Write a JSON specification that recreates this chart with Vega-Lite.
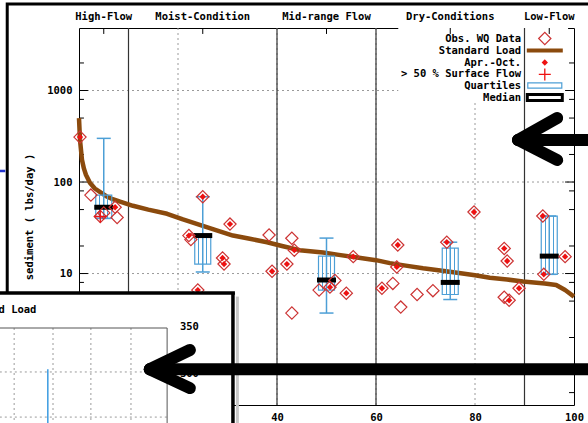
{
"$schema":"https://vega.github.io/schema/vega-lite/v6.json",
"width":495,"height":377,
"autosize":{"type":"none"},
"padding":{"left":79,"top":28,"right":14,"bottom":18},
"background":"#ffffff",
"config":{"view":{"stroke":"#000000","strokeWidth":1},
 "scale":{"continuousPadding":0},
 "axis":{"grid":false,"ticks":false,"domain":false,"labelFlush":false,"labelOverlap":false,"labelFont":"DejaVu Sans Mono","labelFontWeight":"bold","labelFontSize":10.5,"labelColor":"#000000","titleFont":"DejaVu Sans Mono","titleFontWeight":"bold","titleFontSize":10.5,"titleColor":"#000000"},
 "text":{"font":"DejaVu Sans Mono","fontWeight":"bold","fontSize":10.5,"color":"#000000"}},
"datasets":{
 "curve":[{"pct":0,"load":500},{"pct":0.2,"load":290},{"pct":0.6,"load":175},{"pct":1.0,"load":140},{"pct":1.4,"load":120},{"pct":2.2,"load":98},{"pct":3.2,"load":85},{"pct":4.2,"load":78},{"pct":5.5,"load":70},{"pct":6.5,"load":66},{"pct":8.3,"load":61},{"pct":10.9,"load":55},{"pct":14,"load":50},{"pct":17.8,"load":45},{"pct":21,"load":39},{"pct":24.4,"load":34},{"pct":27.5,"load":30},{"pct":31.1,"load":26},{"pct":34.5,"load":24},{"pct":38,"load":22},{"pct":41,"load":20},{"pct":44.6,"load":18},{"pct":49.3,"load":17},{"pct":52.5,"load":16},{"pct":56.2,"load":15},{"pct":60,"load":14},{"pct":62.8,"load":13},{"pct":66,"load":12.2},{"pct":69.5,"load":11.4},{"pct":73,"load":10.8},{"pct":76.4,"load":10.2},{"pct":80,"load":9.6},{"pct":83,"load":9.0},{"pct":86.5,"load":8.6},{"pct":89.7,"load":8.2},{"pct":94.1,"load":7.8},{"pct":96.4,"load":7.5},{"pct":98.2,"load":6.6},{"pct":100,"load":5.6}],
 "obs":[{"pct":0.2,"load":310,"ao":1,"sf":0},{"pct":2.4,"load":72,"ao":0,"sf":0},{"pct":4.3,"load":42,"ao":0,"sf":1},{"pct":5.0,"load":46,"ao":0,"sf":0},{"pct":7.7,"load":41,"ao":0,"sf":0},{"pct":7.3,"load":53,"ao":1,"sf":0},{"pct":22.2,"load":26,"ao":1,"sf":0},{"pct":22.6,"load":23.5,"ao":0,"sf":0},{"pct":25,"load":69,"ao":1,"sf":0},{"pct":24,"load":6.6,"ao":1,"sf":0},{"pct":29,"load":14.8,"ao":1,"sf":0},{"pct":29.3,"load":12.7,"ao":1,"sf":0},{"pct":30.5,"load":34.7,"ao":1,"sf":0},{"pct":38.4,"load":26.4,"ao":0,"sf":0},{"pct":39,"load":10.6,"ao":1,"sf":0},{"pct":43,"load":24.3,"ao":0,"sf":0},{"pct":43.5,"load":18,"ao":1,"sf":0},{"pct":42,"load":12.7,"ao":1,"sf":0},{"pct":43,"load":3.7,"ao":0,"sf":0},{"pct":48.5,"load":6.6,"ao":0,"sf":0},{"pct":50.7,"load":7.1,"ao":1,"sf":0},{"pct":51.7,"load":8.4,"ao":0,"sf":0},{"pct":54,"load":6.1,"ao":1,"sf":0},{"pct":55.4,"load":15.3,"ao":1,"sf":0},{"pct":61.2,"load":6.9,"ao":1,"sf":0},{"pct":63.4,"load":7.8,"ao":0,"sf":0},{"pct":64.4,"load":20.5,"ao":1,"sf":0},{"pct":64.2,"load":11.8,"ao":1,"sf":0},{"pct":65,"load":4.3,"ao":0,"sf":0},{"pct":68.3,"load":5.9,"ao":0,"sf":0},{"pct":71.5,"load":6.5,"ao":0,"sf":0},{"pct":74.3,"load":22,"ao":1,"sf":0},{"pct":79.8,"load":47,"ao":1,"sf":0},{"pct":85.9,"load":18.8,"ao":1,"sf":0},{"pct":86.5,"load":13.7,"ao":1,"sf":0},{"pct":85.9,"load":5.5,"ao":0,"sf":0},{"pct":86.9,"load":5.1,"ao":1,"sf":0},{"pct":88.9,"load":6.9,"ao":1,"sf":0},{"pct":93.7,"load":42.5,"ao":1,"sf":0},{"pct":98.2,"load":15.3,"ao":1,"sf":0},{"pct":93.9,"load":9.8,"ao":1,"sf":0}],
 "box":[{"pct":5,"wlo":40,"q1":40,"med":53,"q3":72,"whi":300},{"pct":25,"wlo":10.4,"q1":12.7,"med":26,"q3":26,"whi":69},{"pct":50,"wlo":3.7,"q1":6.6,"med":8.5,"q3":15.5,"whi":24.4},{"pct":75,"wlo":5.2,"q1":5.9,"med":8,"q3":19,"whi":22},{"pct":95,"wlo":9.8,"q1":9.8,"med":15.5,"q3":42.5,"whi":42.5}],
 "legend":[{"label":"Obs. WQ Data","ly":3700,"sym":"obs"},{"label":"Standard Load","ly":2735,"sym":"load"},{"label":"Apr.-Oct.","ly":2023,"sym":"ao"},{"label":"> 50 % Surface Flow","ly":1497,"sym":"sf"},{"label":"Quartiles","ly":1134,"sym":"q"},{"label":"Median","ly":838,"sym":"med"}],
 "yt":[{"v":1,"m":1},{"v":10,"m":1},{"v":100,"m":1},{"v":1000,"m":1},{"v":0.5,"m":0},{"v":0.8,"m":0},{"v":2,"m":0},{"v":5,"m":0},{"v":8,"m":0},{"v":20,"m":0},{"v":50,"m":0},{"v":80,"m":0},{"v":200,"m":0},{"v":500,"m":0},{"v":800,"m":0},{"v":2000,"m":0}],
 "ann":[{"g":"lbg","x":64.5,"x2":98.8,"y":730,"y2":4820},
  {"g":"frame","x":-14.5,"x2":106,"y":0.2,"y2":8800},
  {"g":"bluemark","x":-16.5,"x2":-14.9,"y":132,"y2":132},
  {"g":"inset","x":-20,"x2":31.1,"y":0.15,"y2":6.12},
  {"g":"iborder","x":-20,"x2":31.5,"y":6.12,"y2":6.12},
  {"g":"iborder","x":31.1,"x2":31.1,"y":6.12,"y2":0.15},
  {"g":"ishadow","x":32.0,"x2":32.0,"y":5.6,"y2":0.15},
  {"g":"iframe","x":-16,"x2":17.8,"y":2.54,"y2":2.54},
  {"g":"iframe","x":17.8,"x2":17.8,"y":2.54,"y2":0.15},
  {"g":"igrid","x":-16,"x2":17.8,"y":0.84,"y2":0.84},
  {"g":"igrid","x":-16,"x2":17.8,"y":0.27,"y2":0.27},
  {"g":"igrid","x":-13.1,"x2":-13.1,"y":2.54,"y2":0.15},
  {"g":"igrid","x":-5.25,"x2":-5.25,"y":2.54,"y2":0.15},
  {"g":"igrid","x":2.4,"x2":2.4,"y":2.54,"y2":0.15},
  {"g":"igrid","x":10.5,"x2":10.5,"y":2.54,"y2":0.15},
  {"g":"iblue","x":-6.3,"x2":-6.3,"y":0.90,"y2":0.15},
  {"g":"arrow","x":88.7,"x2":106,"y":288,"y2":288},
  {"g":"arrow","x":88.7,"x2":96.6,"y":288,"y2":500},
  {"g":"arrow","x":88.7,"x2":96.6,"y":288,"y2":174},
  {"g":"arrow","x":14.3,"x2":106,"y":0.90,"y2":0.90},
  {"g":"arrow","x":14.3,"x2":22.4,"y":0.90,"y2":1.46},
  {"g":"arrow","x":14.3,"x2":22.4,"y":0.90,"y2":0.56}]
},
"layer":[
 {"data":{"values":[{"v":1},{"v":10},{"v":100},{"v":1000}]},"mark":{"type":"rule","color":"#9a9a9a","strokeDash":[2,3],"strokeWidth":1},
  "encoding":{"y":{"field":"v","type":"quantitative","scale":{"type":"log","domain":[0.366,4820],"nice":false},"axis":{"orient":"left","values":[1,10,100,1000],"format":"d","ticks":false,"domain":false,"grid":false,"labelPadding":7,"title":"sediment ( lbs/day )","titlePadding":12}}}},
 {"data":{"values":[{"v":20},{"v":40},{"v":60},{"v":80}]},"mark":{"type":"rule","color":"#9a9a9a","strokeDash":[2,3],"strokeWidth":1},
  "encoding":{"x":{"field":"v","type":"quantitative","scale":{"domain":[0,100],"nice":false,"zero":false,"padding":0},"axis":{"orient":"bottom","values":[0,20,40,60,80,100],"format":"d","ticks":false,"domain":false,"grid":false,"labelFlush":false,"labelPadding":7,"title":null}}}},
 {"data":{"name":"ann"},"transform":[{"filter":"datum.g == 'lbg'"}],"mark":{"type":"rect","fill":"#ffffff"},
  "encoding":{"x":{"field":"x","type":"quantitative","scale":{"domain":[0,100],"nice":false,"zero":false}},"x2":{"field":"x2"},"y":{"field":"y","type":"quantitative","scale":{"type":"log","domain":[0.366,4820],"nice":false}},"y2":{"field":"y2"}}},
 {"data":{"values":[{"v":10},{"v":40},{"v":60},{"v":90}]},"mark":{"type":"rule","color":"#333333","strokeWidth":1.2},
  "encoding":{"x":{"field":"v","type":"quantitative","scale":{"domain":[0,100],"nice":false,"zero":false}}}},
 {"data":{"values":[{"pct":5,"name":"High-Flow"},{"pct":25,"name":"Moist-Condition"},{"pct":50,"name":"Mid-range Flow"},{"pct":75,"name":"Dry-Conditions"},{"pct":95,"name":"Low-Flow"}]},
  "mark":{"type":"text","align":"center","baseline":"middle"},
  "encoding":{"x":{"field":"pct","type":"quantitative","scale":{"domain":[0,100],"nice":false,"zero":false}},"y":{"datum":6350,"type":"quantitative","scale":{"type":"log","domain":[0.366,4820],"nice":false}},"text":{"field":"name"}}},
 {"data":{"values":[{"v":5},{"v":25},{"v":50},{"v":75},{"v":95}]},"mark":{"type":"rule","color":"#000000","strokeWidth":1},
  "encoding":{"x":{"field":"v","type":"quantitative","scale":{"domain":[0,100],"nice":false,"zero":false}},"y":{"datum":4820,"type":"quantitative","scale":{"type":"log","domain":[0.366,4820],"nice":false}},"y2":{"datum":4150}}},
 {"data":{"name":"yt"},"transform":[{"filter":"datum.m == 1"}],"mark":{"type":"rule","color":"#000000","strokeWidth":1},
  "encoding":{"x":{"datum":0,"type":"quantitative","scale":{"domain":[0,100],"nice":false,"zero":false}},"x2":{"datum":1.8},"y":{"field":"v","type":"quantitative","scale":{"type":"log","domain":[0.366,4820],"nice":false}}}},
 {"data":{"name":"yt"},"transform":[{"filter":"datum.m == 0"}],"mark":{"type":"rule","color":"#000000","strokeWidth":1},
  "encoding":{"x":{"datum":0,"type":"quantitative","scale":{"domain":[0,100],"nice":false,"zero":false}},"x2":{"datum":1.0},"y":{"field":"v","type":"quantitative","scale":{"type":"log","domain":[0.366,4820],"nice":false}}}},
 {"data":{"name":"yt"},"transform":[{"filter":"datum.m == 1"}],"mark":{"type":"rule","color":"#000000","strokeWidth":1},
  "encoding":{"x":{"datum":100,"type":"quantitative","scale":{"domain":[0,100],"nice":false,"zero":false}},"x2":{"datum":98.2},"y":{"field":"v","type":"quantitative","scale":{"type":"log","domain":[0.366,4820],"nice":false}}}},
 {"data":{"name":"yt"},"transform":[{"filter":"datum.m == 0"}],"mark":{"type":"rule","color":"#000000","strokeWidth":1},
  "encoding":{"x":{"datum":100,"type":"quantitative","scale":{"domain":[0,100],"nice":false,"zero":false}},"x2":{"datum":99.0},"y":{"field":"v","type":"quantitative","scale":{"type":"log","domain":[0.366,4820],"nice":false}}}},
 {"data":{"name":"curve"},"mark":{"type":"line","color":"#8b4a0d","strokeWidth":4.5,"strokeJoin":"round"},
  "encoding":{"x":{"field":"pct","type":"quantitative","scale":{"domain":[0,100],"nice":false,"zero":false}},"y":{"field":"load","type":"quantitative","scale":{"type":"log","domain":[0.366,4820],"nice":false}}}},
 {"data":{"name":"box"},"mark":{"type":"rule","color":"#4d9fd6","strokeWidth":1.5},
  "encoding":{"x":{"field":"pct","type":"quantitative","scale":{"domain":[0,100],"nice":false,"zero":false}},"y":{"field":"wlo","type":"quantitative","scale":{"type":"log","domain":[0.366,4820],"nice":false}},"y2":{"field":"whi"}}},
 {"data":{"name":"box"},"mark":{"type":"tick","orient":"horizontal","color":"#4d9fd6","size":14,"thickness":1.5,"opacity":1},
  "encoding":{"x":{"field":"pct","type":"quantitative","scale":{"domain":[0,100],"nice":false,"zero":false}},"y":{"field":"whi","type":"quantitative","scale":{"type":"log","domain":[0.366,4820],"nice":false}}}},
 {"data":{"name":"box"},"mark":{"type":"tick","orient":"horizontal","color":"#4d9fd6","size":14,"thickness":1.5,"opacity":1},
  "encoding":{"x":{"field":"pct","type":"quantitative","scale":{"domain":[0,100],"nice":false,"zero":false}},"y":{"field":"wlo","type":"quantitative","scale":{"type":"log","domain":[0.366,4820],"nice":false}}}},
 {"data":{"name":"box"},"mark":{"type":"bar","stroke":"#4d9fd6","strokeWidth":1.2,"opacity":1,
   "fill":{"gradient":"linear","x1":0,"x2":1,"y1":0,"y2":0,"stops":[{"offset":0,"color":"rgba(255,255,255,0)"},{"offset":0.215,"color":"rgba(255,255,255,0)"},{"offset":0.215,"color":"#4d9fd6"},{"offset":0.285,"color":"#4d9fd6"},{"offset":0.285,"color":"rgba(255,255,255,0)"},{"offset":0.465,"color":"rgba(255,255,255,0)"},{"offset":0.465,"color":"#4d9fd6"},{"offset":0.535,"color":"#4d9fd6"},{"offset":0.535,"color":"rgba(255,255,255,0)"},{"offset":0.715,"color":"rgba(255,255,255,0)"},{"offset":0.715,"color":"#4d9fd6"},{"offset":0.785,"color":"#4d9fd6"},{"offset":0.785,"color":"rgba(255,255,255,0)"},{"offset":1,"color":"rgba(255,255,255,0)"}]}},
  "encoding":{"x":{"field":"pct","type":"quantitative","scale":{"domain":[0,100],"nice":false,"zero":false}},"y":{"field":"q1","type":"quantitative","scale":{"type":"log","domain":[0.366,4820],"nice":false}},"y2":{"field":"q3"},"size":{"value":16}}},
 {"data":{"name":"box"},"mark":{"type":"tick","orient":"horizontal","color":"#000000","size":19,"thickness":5,"opacity":1},
  "encoding":{"x":{"field":"pct","type":"quantitative","scale":{"domain":[0,100],"nice":false,"zero":false}},"y":{"field":"med","type":"quantitative","scale":{"type":"log","domain":[0.366,4820],"nice":false}}}},
 {"data":{"name":"obs"},"mark":{"type":"point","shape":"diamond","size":150,"filled":false,"stroke":"#cc3333","strokeWidth":1.2,"opacity":1},
  "encoding":{"x":{"field":"pct","type":"quantitative","scale":{"domain":[0,100],"nice":false,"zero":false}},"y":{"field":"load","type":"quantitative","scale":{"type":"log","domain":[0.366,4820],"nice":false}}}},
 {"data":{"name":"obs"},"transform":[{"filter":"datum.ao == 1"}],"mark":{"type":"point","shape":"diamond","size":40,"filled":true,"color":"#ee1111","opacity":1},
  "encoding":{"x":{"field":"pct","type":"quantitative","scale":{"domain":[0,100],"nice":false,"zero":false}},"y":{"field":"load","type":"quantitative","scale":{"type":"log","domain":[0.366,4820],"nice":false}}}},
 {"data":{"name":"obs"},"transform":[{"filter":"datum.sf == 1"}],"mark":{"type":"point","shape":"M-1,0L1,0M0,-1L0,1","size":144,"filled":false,"stroke":"#ee1111","strokeWidth":1.3,"opacity":1},
  "encoding":{"x":{"field":"pct","type":"quantitative","scale":{"domain":[0,100],"nice":false,"zero":false}},"y":{"field":"load","type":"quantitative","scale":{"type":"log","domain":[0.366,4820],"nice":false}}}},
 {"data":{"name":"legend"},"mark":{"type":"text","align":"right","baseline":"middle"},
  "encoding":{"x":{"datum":89.3,"type":"quantitative","scale":{"domain":[0,100],"nice":false,"zero":false}},"y":{"field":"ly","type":"quantitative","scale":{"type":"log","domain":[0.366,4820],"nice":false}},"text":{"field":"label"}}},
 {"data":{"name":"legend"},"transform":[{"filter":"datum.sym == 'obs'"}],"mark":{"type":"point","shape":"diamond","size":150,"filled":false,"stroke":"#cc3333","strokeWidth":1.2,"opacity":1},
  "encoding":{"x":{"datum":94.1,"type":"quantitative","scale":{"domain":[0,100],"nice":false,"zero":false}},"y":{"field":"ly","type":"quantitative","scale":{"type":"log","domain":[0.366,4820],"nice":false}}}},
 {"data":{"name":"legend"},"transform":[{"filter":"datum.sym == 'load'"}],"mark":{"type":"tick","orient":"horizontal","color":"#8b4a0d","size":36,"thickness":4,"opacity":1},
  "encoding":{"x":{"datum":94.1,"type":"quantitative","scale":{"domain":[0,100],"nice":false,"zero":false}},"y":{"field":"ly","type":"quantitative","scale":{"type":"log","domain":[0.366,4820],"nice":false}}}},
 {"data":{"name":"legend"},"transform":[{"filter":"datum.sym == 'ao'"}],"mark":{"type":"point","shape":"diamond","size":40,"filled":true,"color":"#ee1111","opacity":1},
  "encoding":{"x":{"datum":94.1,"type":"quantitative","scale":{"domain":[0,100],"nice":false,"zero":false}},"y":{"field":"ly","type":"quantitative","scale":{"type":"log","domain":[0.366,4820],"nice":false}}}},
 {"data":{"name":"legend"},"transform":[{"filter":"datum.sym == 'sf'"}],"mark":{"type":"point","shape":"M-1,0L1,0M0,-1L0,1","size":144,"filled":false,"stroke":"#ee1111","strokeWidth":1.3,"opacity":1},
  "encoding":{"x":{"datum":94.1,"type":"quantitative","scale":{"domain":[0,100],"nice":false,"zero":false}},"y":{"field":"ly","type":"quantitative","scale":{"type":"log","domain":[0.366,4820],"nice":false}}}},
 {"data":{"name":"legend"},"transform":[{"filter":"datum.sym == 'q'"}],"mark":{"type":"point","shape":"M-1,-0.15L1,-0.15L1,0.15L-1,0.15Z","size":1156,"filled":false,"stroke":"#4d9fd6","strokeWidth":1.2,"opacity":1},
  "encoding":{"x":{"datum":94.1,"type":"quantitative","scale":{"domain":[0,100],"nice":false,"zero":false}},"y":{"field":"ly","type":"quantitative","scale":{"type":"log","domain":[0.366,4820],"nice":false}}}},
 {"data":{"name":"legend"},"transform":[{"filter":"datum.sym == 'med'"}],"mark":{"type":"point","shape":"M-1,-0.17L1,-0.17L1,0.17L-1,0.17Z","size":1225,"filled":false,"fill":"#ffffff","fillOpacity":1,"stroke":"#000000","strokeWidth":3,"opacity":1},
  "encoding":{"x":{"datum":94.1,"type":"quantitative","scale":{"domain":[0,100],"nice":false,"zero":false}},"y":{"field":"ly","type":"quantitative","scale":{"type":"log","domain":[0.366,4820],"nice":false}}}},
 {"data":{"name":"ann"},"transform":[{"filter":"datum.g == 'frame'"}],"mark":{"type":"rect","fill":null,"fillOpacity":0,"stroke":"#000000","strokeWidth":3},
  "encoding":{"x":{"field":"x","type":"quantitative","scale":{"domain":[0,100],"nice":false,"zero":false}},"x2":{"field":"x2"},"y":{"field":"y","type":"quantitative","scale":{"type":"log","domain":[0.366,4820],"nice":false}},"y2":{"field":"y2"}}},
 {"data":{"name":"ann"},"transform":[{"filter":"datum.g == 'bluemark'"}],"mark":{"type":"rule","color":"#2233cc","strokeWidth":2.5},
  "encoding":{"x":{"field":"x","type":"quantitative","scale":{"domain":[0,100],"nice":false,"zero":false}},"x2":{"field":"x2"},"y":{"field":"y","type":"quantitative","scale":{"type":"log","domain":[0.366,4820],"nice":false}},"y2":{"field":"y2"}}},
 {"data":{"name":"ann"},"transform":[{"filter":"datum.g == 'inset'"}],"mark":{"type":"rect","fill":"#ffffff"},
  "encoding":{"x":{"field":"x","type":"quantitative","scale":{"domain":[0,100],"nice":false,"zero":false}},"x2":{"field":"x2"},"y":{"field":"y","type":"quantitative","scale":{"type":"log","domain":[0.366,4820],"nice":false}},"y2":{"field":"y2"}}},
 {"data":{"name":"ann"},"transform":[{"filter":"datum.g == 'ishadow'"}],"mark":{"type":"rule","color":"#c8c8c8","strokeWidth":3},
  "encoding":{"x":{"field":"x","type":"quantitative","scale":{"domain":[0,100],"nice":false,"zero":false}},"x2":{"field":"x2"},"y":{"field":"y","type":"quantitative","scale":{"type":"log","domain":[0.366,4820],"nice":false}},"y2":{"field":"y2"}}},
 {"data":{"name":"ann"},"transform":[{"filter":"datum.g == 'iborder'"}],"mark":{"type":"rule","color":"#000000","strokeWidth":3.5},
  "encoding":{"x":{"field":"x","type":"quantitative","scale":{"domain":[0,100],"nice":false,"zero":false}},"x2":{"field":"x2"},"y":{"field":"y","type":"quantitative","scale":{"type":"log","domain":[0.366,4820],"nice":false}},"y2":{"field":"y2"}}},
 {"data":{"name":"ann"},"transform":[{"filter":"datum.g == 'igrid'"}],"mark":{"type":"rule","color":"#9a9a9a","strokeDash":[2,3],"strokeWidth":1},
  "encoding":{"x":{"field":"x","type":"quantitative","scale":{"domain":[0,100],"nice":false,"zero":false}},"x2":{"field":"x2"},"y":{"field":"y","type":"quantitative","scale":{"type":"log","domain":[0.366,4820],"nice":false}},"y2":{"field":"y2"}}},
 {"data":{"name":"ann"},"transform":[{"filter":"datum.g == 'iframe'"}],"mark":{"type":"rule","color":"#555555","strokeWidth":1},
  "encoding":{"x":{"field":"x","type":"quantitative","scale":{"domain":[0,100],"nice":false,"zero":false}},"x2":{"field":"x2"},"y":{"field":"y","type":"quantitative","scale":{"type":"log","domain":[0.366,4820],"nice":false}},"y2":{"field":"y2"}}},
 {"data":{"name":"ann"},"transform":[{"filter":"datum.g == 'iblue'"}],"mark":{"type":"rule","color":"#3b9be0","strokeWidth":1.5},
  "encoding":{"x":{"field":"x","type":"quantitative","scale":{"domain":[0,100],"nice":false,"zero":false}},"x2":{"field":"x2"},"y":{"field":"y","type":"quantitative","scale":{"type":"log","domain":[0.366,4820],"nice":false}},"y2":{"field":"y2"}}},
 {"data":{"values":[{"t":"Standard Load"}]},"mark":{"type":"text","align":"right","baseline":"middle"},
  "encoding":{"x":{"datum":-8.6,"type":"quantitative","scale":{"domain":[0,100],"nice":false,"zero":false}},"y":{"datum":4.0,"type":"quantitative","scale":{"type":"log","domain":[0.366,4820],"nice":false}},"text":{"field":"t"}}},
 {"data":{"values":[{"t":"350","v":2.6},{"t":"300","v":0.8}]},"mark":{"type":"text","align":"left","baseline":"middle"},
  "encoding":{"x":{"datum":20.4,"type":"quantitative","scale":{"domain":[0,100],"nice":false,"zero":false}},"y":{"field":"v","type":"quantitative","scale":{"type":"log","domain":[0.366,4820],"nice":false}},"text":{"field":"t"}}},
 {"data":{"name":"ann"},"transform":[{"filter":"datum.g == 'arrow'"}],"mark":{"type":"rule","color":"#000000","strokeWidth":12,"strokeCap":"round"},
  "encoding":{"x":{"field":"x","type":"quantitative","scale":{"domain":[0,100],"nice":false,"zero":false}},"x2":{"field":"x2"},"y":{"field":"y","type":"quantitative","scale":{"type":"log","domain":[0.366,4820],"nice":false}},"y2":{"field":"y2"}}}
]
}
